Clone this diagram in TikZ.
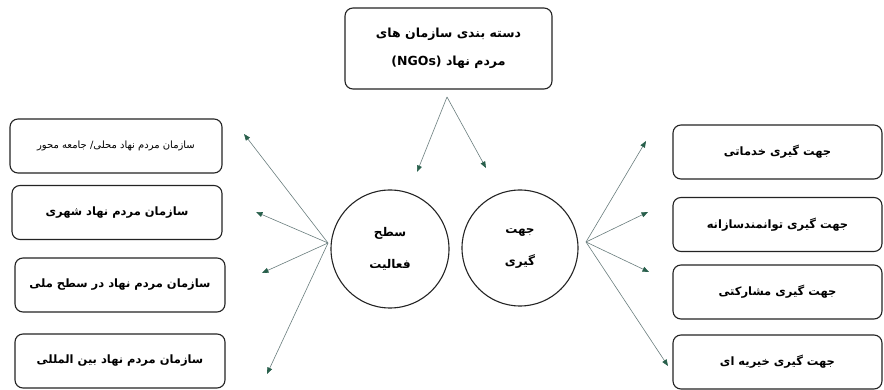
\documentclass[tikz,border=0pt]{standalone}
\usepackage{fontspec}
\usetikzlibrary{arrows.meta}
\TeXXeTstate=1
\newfontfamily\arabicfont[Script=Arabic]{DejaVu Sans}
\definecolor{linec}{RGB}{105,125,125}
\definecolor{tipc}{RGB}{40,95,75}
\definecolor{boxc}{RGB}{35,35,35}
\tikzset{
  rbox/.style={draw=boxc,line width=1.1pt,rounded corners=8pt,minimum width=210pt,minimum height=54pt,inner sep=2pt,font=\arabicfont\bfseries\fontsize{11.5}{14}\selectfont,align=center},
  cbox/.style={draw=boxc,line width=1.1pt,circle,minimum size=118pt,inner sep=0pt,font=\arabicfont\bfseries\fontsize{12}{32}\selectfont,align=center},
  arr/.style={draw=linec,line width=0.6pt,-{Triangle[length=6.5pt,width=5pt,fill=tipc,color=tipc]}}
}
\begin{document}
\begin{tikzpicture}[x=1pt,y=-1pt]
\useasboundingbox (0,0) rectangle (884,390);
\node[rbox,minimum width=207pt,minimum height=81pt,font=\arabicfont\bfseries\fontsize{12.5}{28}\selectfont] (top) at (448.5,48.5) {\beginR دسته بندی سازمان های\endR\\\beginR مردم نهاد \beginL(NGOs)\endL\endR};
\node[rbox,minimum width=212pt,font=\arabicfont\fontsize{10}{12}\selectfont] (l1) at (116,146) {\beginR سازمان مردم نهاد محلی/ جامعه محور\endR};
\node[rbox] (l2) at (117,212.5) {\beginR سازمان مردم نهاد شهری\endR};
\node[rbox] (l3) at (120,285) {\beginR سازمان مردم نهاد در سطح ملی\endR};
\node[rbox] (l4) at (120,361) {\beginR سازمان مردم نهاد بین المللی\endR};
\node[rbox,minimum width=209pt] (r1) at (777.5,152) {\beginR جهت گیری خدماتی\endR};
\node[rbox,minimum width=209pt] (r2) at (777.5,224.5) {\beginR جهت گیری توانمندسازانه\endR};
\node[rbox,minimum width=209pt] (r3) at (777.5,292) {\beginR جهت گیری مشارکتی\endR};
\node[rbox,minimum width=209pt] (r4) at (777.5,362) {\beginR جهت گیری خیریه ای\endR};
\node[cbox] (c1) at (390,249) {\beginR سطح\endR\\\beginR فعالیت\endR};
\node[cbox,minimum size=116pt] (c2) at (520,248) {\beginR جهت\endR\\\beginR گیری\endR};
\coordinate (ts) at (447,97);
\coordinate (lh) at (328,243);
\coordinate (rh) at (586,242);
\coordinate (t1) at (417,172);
\coordinate (t2) at (486,168);
\coordinate (a1) at (244,134);
\coordinate (a2) at (256,212);
\coordinate (a3) at (262,273);
\coordinate (a4) at (267,374);
\coordinate (b1) at (646,141);
\coordinate (b2) at (648,212);
\coordinate (b3) at (649,272);
\coordinate (b4) at (668,366);
\draw[arr] (ts) -- (t1);
\draw[arr] (ts) -- (t2);
\draw[arr] (lh) -- (a1);
\draw[arr] (lh) -- (a2);
\draw[arr] (lh) -- (a3);
\draw[arr] (lh) -- (a4);
\draw[arr] (rh) -- (b1);
\draw[arr] (rh) -- (b2);
\draw[arr] (rh) -- (b3);
\draw[arr] (rh) -- (b4);
\end{tikzpicture}
\end{document}
